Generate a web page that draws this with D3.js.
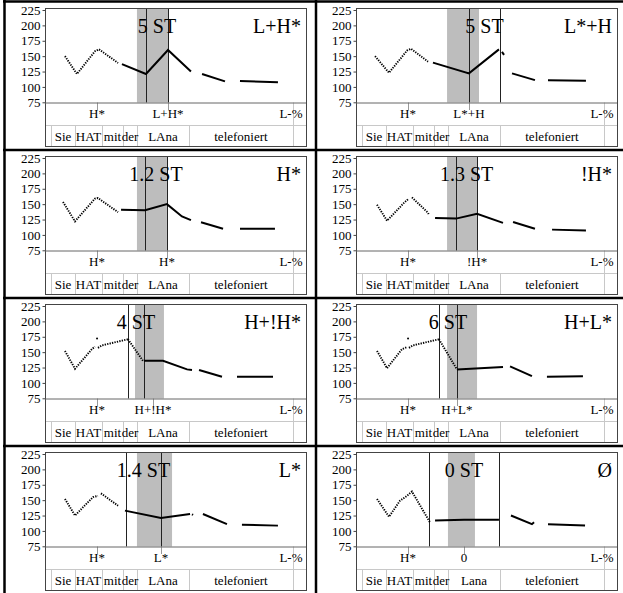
<!DOCTYPE html>
<html><head><meta charset="utf-8">
<script src="https://cdn.jsdelivr.net/npm/d3@7"></script>
<style>
body{margin:0;background:#fff}
svg{display:block}
svg text{font-family:"Liberation Serif","DejaVu Serif","Noto Serif",Times,serif !important;fill:#000}
</style>
</head><body>
<svg id="c" width="623" height="593" font-family="Liberation Serif, DejaVu Serif, serif"></svg>
<script>
// ---------- data ----------
const yTicks = [75, 100, 125, 150, 175, 200, 225];
const words = ["Sie", "HAT", "mit", "der", "LAna", "telefoniert"];
const wordsLast = ["Sie", "HAT", "mit", "der", "Lana", "telefoniert"];
const wordBounds = [0.040, 0.200, 0.380, 0.520, 0.613, 0.960, 1.653];
const accentNames = ["L+H*", "L*+H", "H*", "!H*", "H+!H*", "H+L*", "L*", "Ø"];
const stLabels = ["5 ST", "5 ST", "1.2 ST", "1.3 ST", "4 ST", "6 ST", "1.4 ST", "0 ST"];
const accentTones = ["L+H*", "L*+H", "H*", "!H*", "H+!H*", "H+L*", "L*", "0"];
const accentTimes = [0.820, 0.753, 0.813, 0.807, 0.720, 0.673, 0.773, 0.720];
const prenuclearTone = "H*";
const prenuclearTime = 0.347;
const boundaryTone = "L-%";
const boundaryTime = 1.653;
const shadeFrom = [0.613, 0.607, 0.613, 0.607, 0.600, 0.607, 0.613, 0.613];
const shadeTo   = [0.820, 0.820, 0.813, 0.807, 0.793, 0.807, 0.847, 0.793];
const markA = [0.673, 0.753, 0.667, 0.667, 0.553, 0.553, 0.540, 0.487];
const markB = [0.820, 0.960, 0.813, 0.807, 0.660, 0.673, 0.773, 0.953];

// pitch tracks: segments of [time (s), F0 (Hz)]
const pitchLH = [
  [[0.133,150],[0.213,121],[0.333,158],[0.360,161],[0.487,139]],
  [[0.513,137],[0.673,121],[0.820,160],[0.973,125]],
  [[1.047,121],[1.200,109]],
  [[1.300,109.5],[1.553,107.5]]
];
const pitchLsH = [
  [[0.127,150],[0.220,123],[0.340,159],[0.367,162],[0.480,141]],
  [[0.513,139.5],[0.753,122],[0.953,161]],
  [[0.973,157],[0.987,152]],
  [[1.040,122],[1.193,111]],
  [[1.280,111],[1.533,110]]
];
const pitchH = [
  [[0.120,153.5],[0.200,122],[0.333,159],[0.353,160],[0.487,137]],
  [[0.507,141],[0.667,140],[0.813,150],[0.913,130],[0.973,124]],
  [[1.040,120.5],[1.187,110]],
  [[1.300,110],[1.533,110]]
];
const pitchDownH = [
  [[0.140,149],[0.207,123],[0.320,152],[0.347,158]],
  [[0.373,161],[0.480,136],[0.487,132]],
  [[0.527,127.5],[0.667,126.5],[0.807,134.5],[0.980,119.5]],
  [[1.047,121],[1.193,110]],
  [[1.307,108.6],[1.533,107]]
];
const pitchHDownH = [
  [[0.133,152],[0.200,123],[0.313,155],[0.333,159]],
  [[0.347,172]],
  [[0.353,157],[0.380,161],[0.553,171]],
  [[0.553,171],[0.653,136]],
  [[0.660,136],[0.787,136],[0.947,122],[0.980,121]],
  [[1.027,121],[1.180,110]],
  [[1.280,110],[1.520,110]]
];
const pitchHL = [
  [[0.140,152],[0.207,124],[0.307,155],[0.340,158]],
  [[0.347,172]],
  [[0.353,157],[0.380,161],[0.553,171]],
  [[0.553,171],[0.673,122]],
  [[0.673,122],[0.980,126]],
  [[1.027,127],[1.173,111]],
  [[1.273,110],[1.513,111]]
];
const pitchL = [
  [[0.133,152],[0.200,125],[0.320,155],[0.353,157]],
  [[0.373,161],[0.487,141]],
  [[0.533,133],[0.773,121],[0.967,127.5]],
  [[0.980,127],[0.987,126]],
  [[1.053,127.5],[1.213,111]],
  [[1.313,110],[1.553,108.6]]
];
const pitchNone = [
  [[0.140,152],[0.220,123],[0.293,149],[0.340,157],[0.373,164],[0.493,114]],
  [[0.527,117],[0.720,118],[0.953,118]],
  [[1.033,125],[1.173,111],[1.187,114]],
  [[1.280,111],[1.527,109]]
];

// ---------- drawing ----------
const FONT = '"Liberation Serif", "DejaVu Serif", serif';
const pitchTracks = [pitchLH, pitchLsH, pitchH, pitchDownH, pitchHDownH, pitchHL, pitchL, pitchNone];
const colX = [0, 311], rowY = [0, 148, 296, 444];
const FT = 8, PB = 102.5, TB = 125, FB = 146, L = 45, R = 306;
const x = d3.scaleLinear().domain([0, 1.74]).range([L, R]);
const y = d3.scaleLinear().domain([75, 225]).range([102.3, 10]);
const svg = d3.select("#c");
const line = d3.line().x(d => x(d[0])).y(d => y(d[1]));
const txt = (g) => g.append("text").attr("font-family", FONT).attr("fill", "#000");

pitchTracks.forEach((segs, i) => {
  const g = svg.append("g").attr("transform", `translate(${colX[i % 2]},${rowY[Math.floor(i / 2)]})`);

  g.append("rect").attr("x", x(shadeFrom[i])).attr("y", FT)
    .attr("width", x(shadeTo[i]) - x(shadeFrom[i])).attr("height", PB - FT)
    .attr("fill", "#bdbdbd");

  g.append("line").attr("x1", L).attr("x2", R).attr("y1", TB + 0.5).attr("y2", TB + 0.5)
    .attr("stroke", "#c8c8c8");
  wordBounds.forEach(b => {
    g.append("line").attr("x1", Math.round(x(b)) + 0.5).attr("x2", Math.round(x(b)) + 0.5)
      .attr("y1", TB).attr("y2", FB).attr("stroke", "#c8c8c8");
  });
  g.append("line").attr("x1", Math.round(x(boundaryTime)) + 0.5).attr("x2", Math.round(x(boundaryTime)) + 0.5)
    .attr("y1", PB).attr("y2", FB).attr("stroke", "#c8c8c8");
  [prenuclearTime, accentTimes[i]].forEach(t => {
    g.append("line").attr("x1", Math.round(x(t)) + 0.5).attr("x2", Math.round(x(t)) + 0.5)
      .attr("y1", PB).attr("y2", 110).attr("stroke", "#999");
  });

  [markA[i], markB[i]].forEach(t => {
    g.append("line").attr("x1", Math.round(x(t)) + 0.5).attr("x2", Math.round(x(t)) + 0.5)
      .attr("y1", FT).attr("y2", PB).attr("stroke", "#222").attr("stroke-width", 1);
  });

  g.append("rect").attr("x", L + 0.5).attr("y", FT + 0.5).attr("width", R - L).attr("height", FB - FT)
    .attr("fill", "none").attr("stroke", "#444");
  g.append("line").attr("x1", L).attr("x2", R).attr("y1", PB + 0.5).attr("y2", PB + 0.5)
    .attr("stroke", "#666");

  const ax = g.append("g").attr("transform", `translate(${L + 0.5},0)`)
    .call(d3.axisLeft(y).tickValues(yTicks).tickSize(3).tickPadding(2));
  ax.attr("font-family", FONT).attr("font-size", 13);
  ax.select(".domain").remove();
  ax.selectAll(".tick line").attr("stroke", "#444");
  ax.selectAll(".tick text").attr("font-family", FONT).attr("font-size", 13).attr("fill", "#000");

  segs.forEach(seg => {
    if (seg.length === 1) {
      g.append("circle").attr("cx", x(seg[0][0])).attr("cy", y(seg[0][1])).attr("r", 1).attr("fill", "#000");
      return;
    }
    const dotted = seg[seg.length - 1][0] < 0.7;
    g.append("path").datum(seg).attr("d", line)
      .attr("fill", "none").attr("stroke", "#000")
      .attr("stroke-width", dotted ? 1.9 : 2)
      .attr("stroke-dasharray", dotted ? "1.3,1.2" : null);
  });

  txt(g).attr("x", (x(markA[i]) + x(markB[i])) / 2).attr("y", 33)
    .attr("text-anchor", "middle").attr("font-size", 20).text(stLabels[i]);
  txt(g).attr("x", 301).attr("y", 33)
    .attr("text-anchor", "end").attr("font-size", 20).text(accentNames[i]);

  txt(g).attr("x", x(prenuclearTime)).attr("y", 118).attr("text-anchor", "middle")
    .attr("font-size", 13).text(prenuclearTone);
  txt(g).attr("x", x(accentTimes[i])).attr("y", 118).attr("text-anchor", "middle")
    .attr("font-size", 13).text(accentTones[i]);
  txt(g).attr("x", x(boundaryTime) - 2).attr("y", 118).attr("text-anchor", "middle")
    .attr("font-size", 13).text(boundaryTone);

  const w = i === 7 ? wordsLast : words;
  w.forEach((word, j) => {
    txt(g).attr("x", (x(wordBounds[j]) + x(wordBounds[j + 1])) / 2).attr("y", 141)
      .attr("text-anchor", "middle").attr("font-size", 13).text(word);
  });
});

const bw = 2.5;
svg.append("line").attr("x1", 3).attr("x2", 623).attr("y1", 1.5).attr("y2", 1.5).attr("stroke", "#000").attr("stroke-width", bw);
[150, 298, 446].forEach(yy => {
  svg.append("line").attr("x1", 3).attr("x2", 623).attr("y1", yy).attr("y2", yy).attr("stroke", "#000").attr("stroke-width", bw);
});
[4.5, 316].forEach(xx => {
  svg.append("line").attr("x1", xx).attr("x2", xx).attr("y1", 0).attr("y2", 593).attr("stroke", "#000").attr("stroke-width", bw);
});
</script>
</body></html>
